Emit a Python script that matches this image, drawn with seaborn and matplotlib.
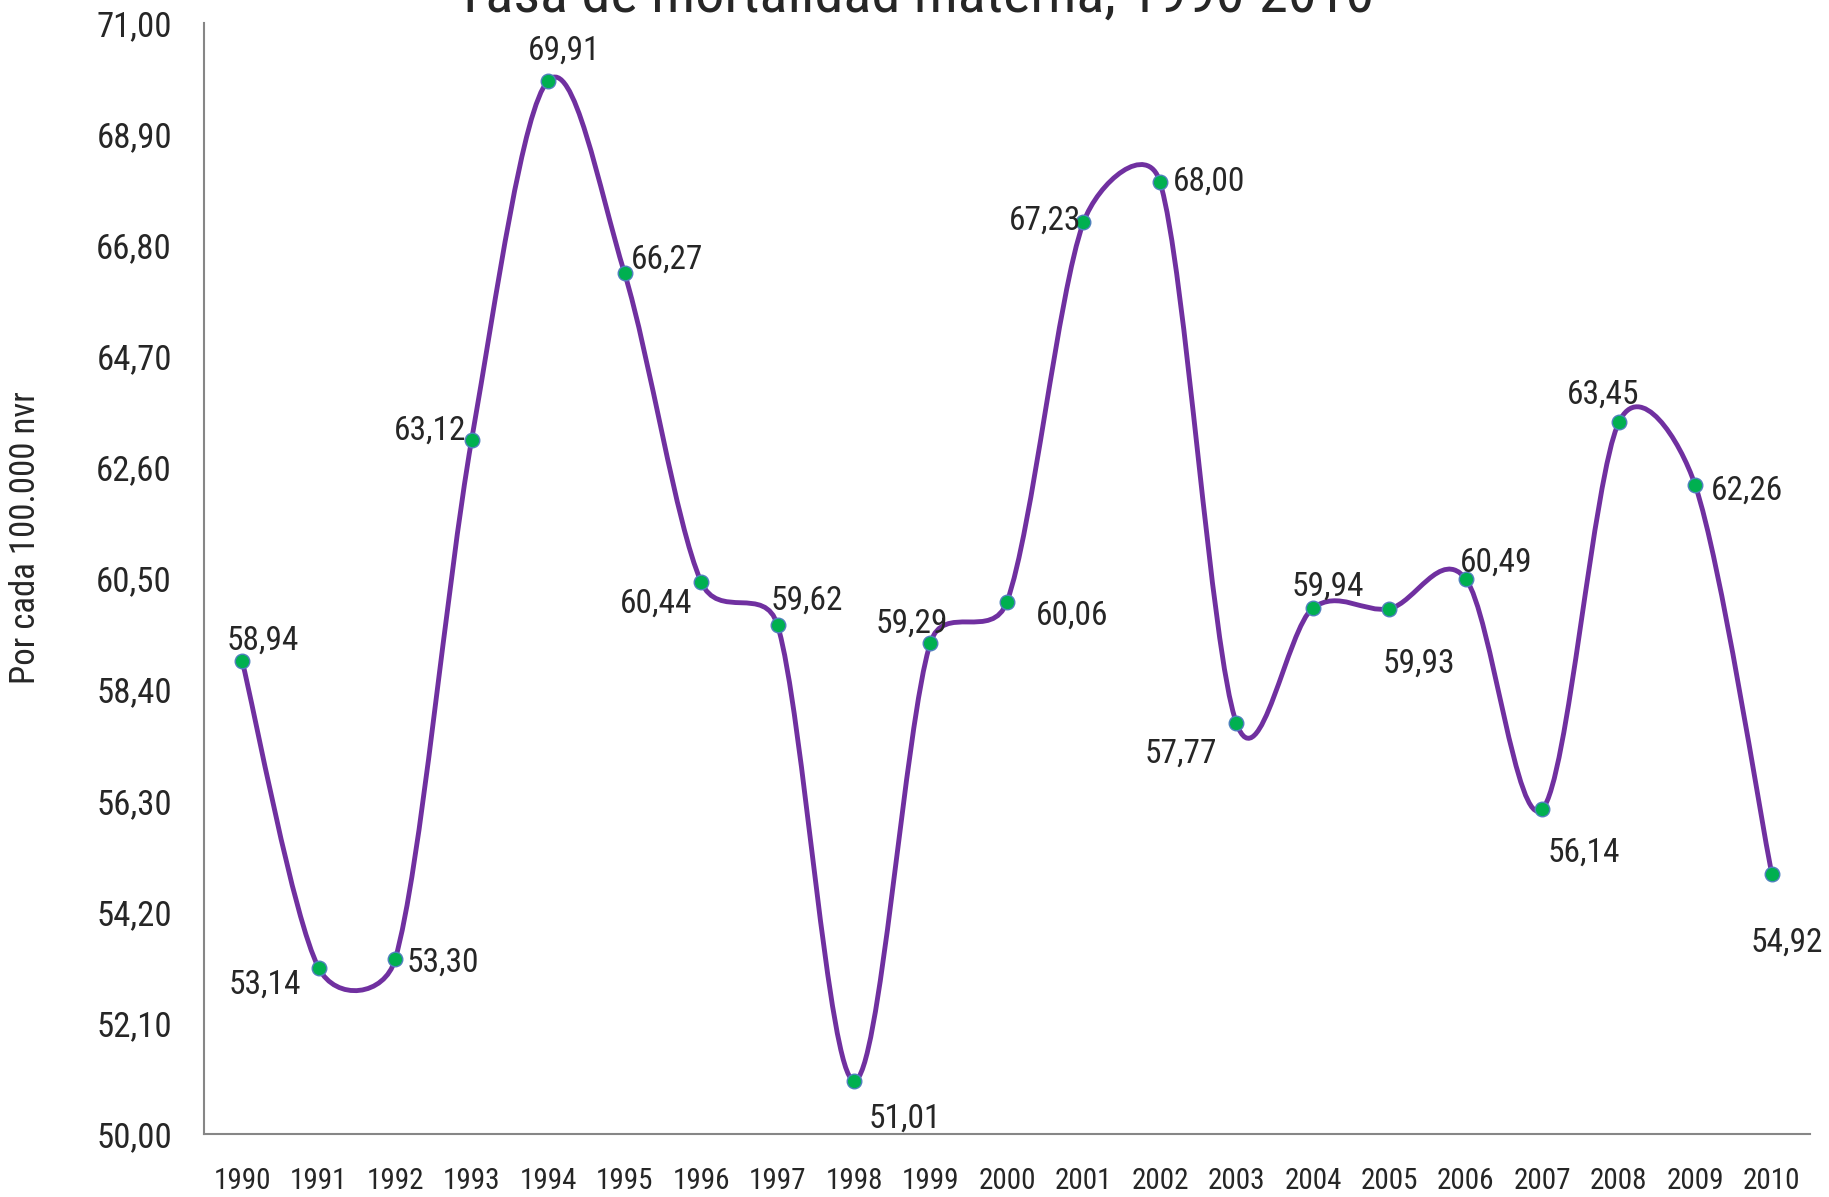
import numpy as np
import pandas as pd
import matplotlib
matplotlib.use("Agg")
import matplotlib.pyplot as plt
from matplotlib.path import Path
from matplotlib.patches import PathPatch
from matplotlib import font_manager
import seaborn as sns

# data
years = ["1990", "1991", "1992", "1993", "1994", "1995", "1996", "1997", "1998", "1999", "2000",
         "2001", "2002", "2003", "2004", "2005", "2006", "2007", "2008", "2009", "2010"]
rates = [58.94, 53.14, 53.30, 63.12, 69.91, 66.27, 60.44, 59.62, 51.01, 59.29, 60.06,
         67.23, 68.00, 57.77, 59.94, 59.93, 60.49, 56.14, 63.45, 62.26, 54.92]
y_ticks = [50.0, 52.1, 54.2, 56.3, 58.4, 60.5, 62.6, 64.7, 66.8, 68.9, 71.0]

# label offsets in pixels (dx, dy) from each marker
label_offsets = [(21, 20), (-54, -17), (48, -3), (-42, 9), (16, 30), (42, 14), (-45, -22),
                 (29, 24), (51, -38), (-19, 19), (65, -14), (-38, 2), (49, 0), (-56, -31),
                 (15, 21), (29, -55), (30, 16), (42, -43), (-16, 28), (52, -5), (15, -69)]

df = pd.DataFrame({"year": years, "rate": rates, "pos": np.arange(len(years))})

sns.set_style("white")
installed = {f.name for f in font_manager.fontManager.ttflist}
narrow = [n for n in ["Liberation Sans Narrow", "Arial Narrow", "Roboto Condensed"] if n in installed]
plt.rcParams["font.family"] = narrow + ["DejaVu Sans"]
plt.rcParams["font.stretch"] = "condensed"

purple = "#7030A0"
green = "#00B050"
edge = "#4F81BD"
grey = "#868686"

fig = plt.figure(figsize=(18.29, 11.97), dpi=100)
ax = fig.add_axes([0.1115, 0.0526, 0.8781, 0.9282])
ax.set_xlim(-0.5, len(years) - 0.5)
ax.set_ylim(50, 71)

# Excel-style smoothed line: bezier control points worked out in screen space
x = df["pos"].to_numpy(dtype=float)
y = df["rate"].to_numpy(dtype=float)
scr = ax.transData.transform(np.column_stack([x, y]))
n = len(scr)
verts = [scr[0]]
codes = [Path.MOVETO]
for i in range(n - 1):
    p0 = scr[i - 1] if i > 0 else scr[i]
    p1 = scr[i]
    p2 = scr[i + 1]
    p3 = scr[i + 2] if i + 2 < n else scr[i + 1]
    d12 = np.hypot(*(p2 - p1))
    d02 = np.hypot(*(p2 - p0))
    d13 = np.hypot(*(p3 - p1))
    f0 = 1 / 6 if d02 / 6 < d12 / 2 else (d12 / d02 / 2 if d02 > 0 else 0)
    f3 = 1 / 6 if d13 / 6 < d12 / 2 else (d12 / d13 / 2 if d13 > 0 else 0)
    verts += [p1 + (p2 - p0) * f0, p2 - (p3 - p1) * f3, p2]
    codes += [Path.CURVE4] * 3
verts = ax.transData.inverted().transform(np.array(verts))
ax.add_patch(PathPatch(Path(verts, codes), facecolor="none", edgecolor=purple, lw=3.5,
                       zorder=2, capstyle="round", joinstyle="round"))

sns.scatterplot(data=df, x="pos", y="rate", ax=ax, color=green, edgecolor=edge,
                linewidth=1.0, s=110, zorder=3, legend=False)

for xi, yi, (dx, dy) in zip(x, y, label_offsets):
    ax.annotate(f"{yi:.2f}".replace(".", ","), (xi, yi), xytext=(dx, dy),
                textcoords="offset pixels", ha="center", va="center", fontsize=24)

ax.set_xticks(x)
ax.set_xticklabels(years, fontsize=21)
ax.set_xticks(np.arange(-0.5, len(years), 1.0), minor=True)
ax.set_yticks(y_ticks)
ax.set_yticklabels([f"{v:.2f}".replace(".", ",") for v in y_ticks], fontsize=25)
ax.tick_params(axis="x", which="major", length=0, pad=24)
ax.tick_params(axis="x", which="minor", length=9, width=1.5, color=grey, direction="out")
ax.tick_params(axis="y", length=9, width=1.5, color=grey, direction="out", pad=14)
ax.set_xlabel("")
ax.set_ylabel("")

for side in ["top", "right"]:
    ax.spines[side].set_visible(False)
for side in ["left", "bottom"]:
    ax.spines[side].set_color(grey)
    ax.spines[side].set_linewidth(1.5)

fig.text(0.5, 0.99, "Tasa de mortalidad materna, 1990-2010", ha="center", va="baseline",
         fontsize=42)
fig.text(0.014, 0.551, "Por cada 100.000 nvr", rotation=90, ha="center", va="center",
         fontsize=25)

fig.savefig("out.png", dpi=100)
